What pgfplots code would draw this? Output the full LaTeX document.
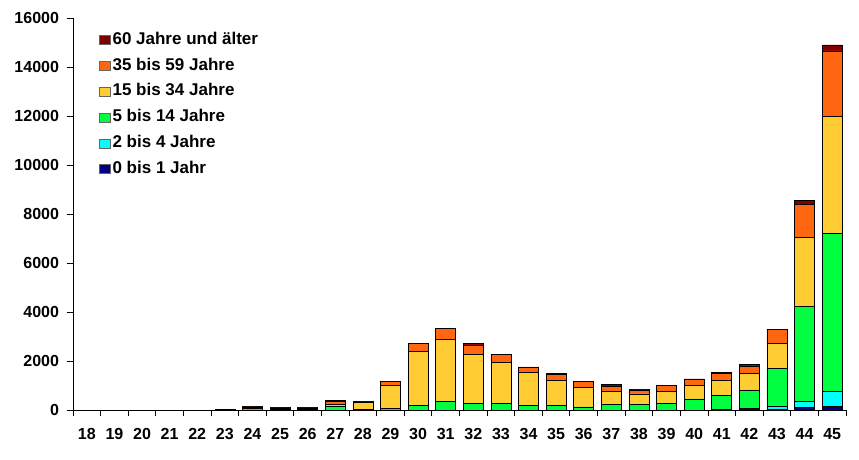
\documentclass[border=0pt]{standalone}
\usepackage{pgfplots}
\pgfplotsset{compat=1.18}
\usepackage{pgfplotstable}
\usepackage{fontspec}
\setmainfont{Liberation Sans}
\definecolor{cA}{RGB}{0,0,128}
\definecolor{cB}{RGB}{0,255,255}
\definecolor{cC}{RGB}{0,255,64}
\definecolor{cD}{RGB}{255,204,51}
\definecolor{cE}{RGB}{255,102,17}
\definecolor{cF}{RGB}{128,0,0}
\pgfplotstableread{
x a b c d e f
18 0 0 0 0 0 0
19 0 0 0 0 0 0
20 0 0 0 0 0 0
21 0 0 0 0 0 0
22 0 0 0 0 0 0
23 0 0 10 15 10 5
24 0 0 80 30 20 5
25 0 0 10 30 50 30
26 0 0 20 30 40 30
27 0 0 150 85 110 50
28 0 0 20 280 30 10
29 0 0 80 925 175 0
30 0 0 200 2180 350 0
31 0 0 340 2555 450 0
32 0 0 285 2000 370 50
33 0 0 280 1650 330 0
34 0 0 200 1330 230 0
35 0 0 190 1020 230 70
36 0 0 130 800 245 0
37 0 0 240 530 205 70
38 0 0 220 435 165 15
39 0 0 280 480 245 0
40 0 0 450 550 260 10
41 10 10 580 610 280 60
42 60 20 740 680 300 60
43 20 140 1540 1020 585 0
44 95 245 3900 2790 1375 150
45 160 590 6470 4780 2660 240
}\datatable
\begin{document}
\begin{tikzpicture}
\useasboundingbox (-73pt,-49pt) rectangle (786pt,410pt);
\begin{axis}[
  at={(0pt,0pt)}, anchor=origin,
  scale only axis,
  width=773pt, height=392pt,
  ybar stacked,
  bar width=20pt,
  xmin=17.5, xmax=45.5,
  ymin=0, ymax=16000,
  axis x line=bottom, axis y line=left,
  axis line style={-, line width=0.9pt},
  xtick={18,...,45},
  minor xtick={17.5,18.5,...,45.5},
  ytick={0,2000,...,16000},
  major x tick style={draw=none},
  minor x tick style={line width=0.9pt, black},
  y tick style={line width=0.9pt, black},
  tick align=outside,
  major tick length=6pt,
  minor tick length=6pt,
  scaled y ticks=false,
  yticklabel={\fontsize{16}{18}\selectfont\bfseries\pgfmathprintnumber[1000 sep={},assume math mode=true]{\tick}},
  xticklabel={\fontsize{16}{18}\selectfont\bfseries\pgfmathprintnumber[assume math mode=true]{\tick}},
  yticklabel style={xshift=-4.5pt},
  xticklabel style={yshift=-9pt},
  legend style={at={(0.034,0.969)}, anchor=north west, draw=none, fill=none,
    font=\fontsize{17}{19}\selectfont\bfseries, row sep=6.3pt, inner sep=0pt,
    nodes={text height=12pt, text depth=3.5pt, inner sep=2pt},
    legend cell align=left},
  legend image code/.code={\draw[#1,draw=black!60] (0pt,-4.5pt) rectangle (10.5pt,4.5pt);},
  reverse legend,
  every axis plot/.append style={draw=black, line width=0.6pt},
]
\addplot[fill=cA] table[x=x,y=a]{\datatable};
\addplot[fill=cB] table[x=x,y=b]{\datatable};
\addplot[fill=cC] table[x=x,y=c]{\datatable};
\addplot[fill=cD] table[x=x,y=d]{\datatable};
\addplot[fill=cE] table[x=x,y=e]{\datatable};
\addplot[fill=cF] table[x=x,y=f]{\datatable};
\legend{0 bis 1 Jahr,2 bis 4 Jahre,5 bis 14 Jahre,15 bis 34 Jahre,35 bis 59 Jahre,60 Jahre und älter}
\end{axis}
\end{tikzpicture}
\end{document}
